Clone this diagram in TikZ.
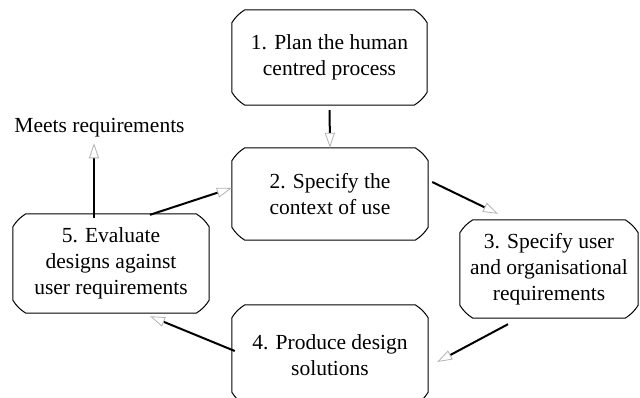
\documentclass[tikz,border=0pt]{standalone}
\usepackage{fontspec}
\setmainfont{Liberation Serif}
\usetikzlibrary{arrows.meta,calc}
\tikzset{
  boxtext/.style={align=center, font=\fontsize{21.5}{26}\selectfont, inner sep=0pt},
  boxline/.style={draw=black, line width=1pt},
  conn/.style={line width=2pt, -{Triangle[open, length=15pt, width=10pt, line width=0.8pt, color=gray!60]}},
}
\newcommand\chbox[1]{%
  \draw[boxline] ($(#1.north west)+(13,0)$) -- ($(#1.north east)+(-13,0)$)
    to[bend left=12] ($(#1.north east)+(0,13)$) -- ($(#1.south east)+(0,-13)$)
    to[bend left=12] ($(#1.south east)+(-13,0)$) -- ($(#1.south west)+(13,0)$)
    to[bend left=12] ($(#1.south west)+(0,-13)$) -- ($(#1.north west)+(0,13)$)
    to[bend left=12] ($(#1.north west)+(13,0)$) -- cycle;}
\begin{document}
\begin{tikzpicture}[x=1pt,y=-1pt]
\useasboundingbox (0,0) rectangle (640,398);
\clip (0,0) rectangle (640,398);
\node[boxtext, minimum width=195pt, minimum height=95pt] (n1) at (329.5,57.5) {1. Plan the human\\centred process};
\node[boxtext, minimum width=196pt, minimum height=92pt] (n2) at (330,194) {2. Specify the\\context of use};
\node[boxtext, minimum width=178pt, minimum height=98pt] (n3) at (549,269) {3. Specify user\\and organisational\\requirements};
\node[boxtext, minimum width=196pt, minimum height=100pt] (n4) at (330,355) {4. Produce design\\solutions};
\node[boxtext, minimum width=196pt, minimum height=99pt] (n5) at (111,263.5) {5. Evaluate\\designs against\\user requirements};
\node[font=\fontsize{21.5}{26}\selectfont, anchor=base, inner sep=5.5pt] (meets) at (99.5,133) {Meets requirements};
\chbox{n1}
\chbox{n2}
\chbox{n3}
\chbox{n4}
\chbox{n5}
\draw[conn, shorten <=5pt] (n1.south) -- (n2.north);
\draw[conn] ($(n2.east)+(4,-12)$) -- ($(n3.north)+(-51,-6)$);
\draw[conn] ($(n3.south)+(-41,6)$) -- ($(n4.east)+(9,7)$);
\draw[conn] ($(n4.west)+(3,-4)$) -- ($(n5.south)+(39,3)$);
\draw[conn] ($(n5.north)+(39,1)$) -- ($(n2.west)+(0,-6)$);
\draw[conn] ($(n5.north)+(-17,4)$) -- ($(meets.south)+(-5.5,0)$);
\end{tikzpicture}
\end{document}
